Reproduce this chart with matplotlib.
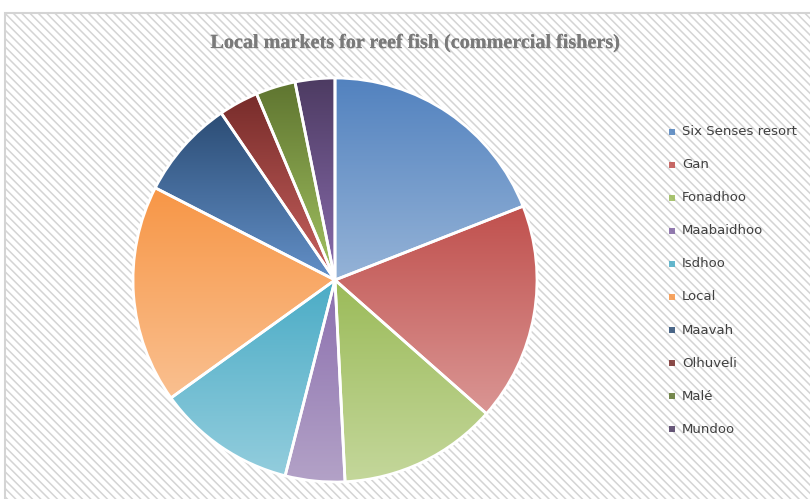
import numpy as np
import matplotlib
matplotlib.use("Agg")
import matplotlib.pyplot as plt
from matplotlib.colors import to_rgb
from matplotlib.patches import Rectangle
import matplotlib.patheffects as pe

# market share of reef fish sales (number of fishers)
markets = ["Six Senses resort", "Gan", "Fonadhoo", "Maabaidhoo", "Isdhoo",
           "Local", "Maavah", "Olhuveli", "Malé", "Mundoo"]
counts = [12, 11, 8, 3, 7, 11, 5, 2, 2, 2]

# gradient ends for each slice (top -> bottom)
top_colors = ["#5282BF", "#C0504D", "#9BBB59", "#8B6FAE", "#4BACC6",
              "#F79646", "#2C4D75", "#772C2A", "#5F7530", "#4D3B62"]
bottom_colors = ["#95B3D7", "#DA9694", "#C4D79B", "#B3A2C7", "#93CDDD",
                 "#FAC090", "#6390C8", "#C9625F", "#A3C362", "#8A6DAE"]
legend_colors = ["#4F81BD", "#C0504D", "#9BBB59", "#8064A2", "#4BACC6",
                 "#F79646", "#2C4D75", "#772C2A", "#5F7530", "#4D3B62"]

W, H = 810, 499
fig = plt.figure(figsize=(W / 100, H / 100), dpi=100)
fig.patch.set_facecolor("white")

# hatched chart area with a light border
plt.rcParams["hatch.linewidth"] = 1.1
plt.rcParams["hatch.color"] = "#EDEDED"
bg = Rectangle((5 / W, -0.1), 1.2, 1.1 - 13 / H, transform=fig.transFigure,
               facecolor="white", edgecolor="#D4D4D4", linewidth=1.5,
               hatch="\\\\\\\\", zorder=-5)
fig.patches.append(bg)
bg.set_edgecolor("#D4D4D4")

# pie axes
cx, cy, r = 335, 280, 202
lim = 1.05
side = 2 * r * lim
ax = fig.add_axes([(cx - side / 2) / W, (H - cy - side / 2) / H, side / W, side / H])
ax.set_axis_off()
ax.patch.set_visible(False)

wedges, _ = ax.pie(counts, startangle=90, counterclock=False, radius=1,
                   wedgeprops=dict(edgecolor="white", linewidth=2))

for w, ct, cb in zip(wedges, top_colors, bottom_colors):
    ext = w.get_path().get_extents()
    t = np.linspace(0, 1, 256)[:, None]
    c0 = np.array(to_rgb(ct))
    c1 = np.array(to_rgb(cb))
    img = c0[None, None, :] * (1 - t[..., None]) + c1[None, None, :] * t[..., None]
    img = np.repeat(img, 2, axis=1)
    im = ax.imshow(img, extent=[ext.x0, ext.x1, ext.y0, ext.y1], origin="upper",
                   aspect="auto", zorder=1, interpolation="bilinear")
    im.set_clip_path(w)
    w.set_facecolor("none")
    w.set_zorder(2)

ax.set_xlim(-lim, lim)
ax.set_ylim(-lim, lim)
ax.set_aspect("equal")

# title
fig.text(415 / W, 1 - 43 / H, "Local markets for reef fish (commercial fishers)",
         ha="center", va="center", family="Liberation Serif", weight="bold",
         fontsize=14.5, color="#7A7A7A",
         path_effects=[pe.withSimplePatchShadow(offset=(0.6, -0.6), alpha=0.12),
                       pe.Normal()])

# legend
y0, dy = 131.5, 33.1
for i, (name, col) in enumerate(zip(markets, legend_colors)):
    y = y0 + i * dy
    fig.patches.append(Rectangle((669 / W, 1 - (y + 3) / H), 6 / W, 6 / H,
                                 transform=fig.transFigure, facecolor=col,
                                 edgecolor="none", alpha=0.85))
    fig.text(682 / W, 1 - y / H, name, ha="left", va="center",
             family="DejaVu Sans", fontsize=9.5, color="#404040")

fig.savefig("out.png", dpi=100)
